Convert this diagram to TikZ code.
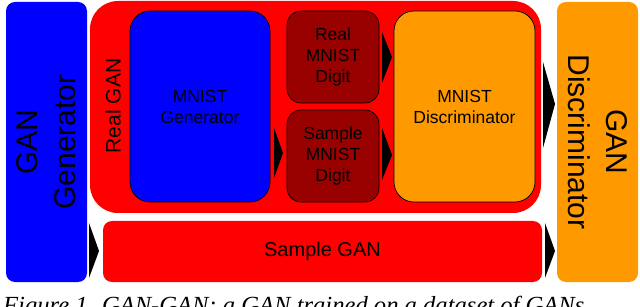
\documentclass[tikz,border=0pt]{standalone}
\usepackage{fontspec}
\setmainfont{Liberation Sans}
\newfontfamily\capfont{Liberation Serif}
\definecolor{gblue}{HTML}{0000FF}
\definecolor{gred}{HTML}{FF0000}
\definecolor{gdark}{HTML}{990000}
\definecolor{gorange}{HTML}{FF9900}
\begin{document}
\begin{tikzpicture}[x=1pt,y=-1pt,
  box/.style={rectangle, inner sep=0pt, align=center, text=black},
  outer/.style={box, draw=none},
  inner/.style={box, draw=black, line width=0.7pt},
  chev/.style={fill=black, draw=none}]
\useasboundingbox (0,0) rectangle (640,307);
\clip (0,0) rectangle (640,307);
% outer boxes
\node[outer, fill=gblue, rounded corners=9pt, minimum width=81pt, minimum height=280pt] (ggen) at (46.5,142) {};
\node[outer, fill=gred, rounded corners=28pt, minimum width=451pt, minimum height=212pt] (realgan) at (315.5,107) {};
\node[outer, fill=gred, rounded corners=9pt, minimum width=439pt, minimum height=61pt] (sgan) at (322.5,251.5) {};
\node[outer, fill=gorange, rounded corners=9pt, minimum width=81pt, minimum height=280pt] (gdis) at (597.5,142) {};
% inner boxes
\node[inner, fill=gblue, rounded corners=20pt, minimum width=140pt, minimum height=191pt] (mgen) at (200,106.5) {};
\node[inner, fill=gdark, rounded corners=14pt, minimum width=92pt, minimum height=92pt] (rdig) at (333,57) {};
\node[inner, fill=gdark, rounded corners=14pt, minimum width=92pt, minimum height=92pt] (sdig) at (333,156) {};
\node[inner, fill=gorange, rounded corners=20pt, minimum width=141pt, minimum height=191pt] (mdis) at (464.5,106.5) {};
% labels
\node[box, rotate=90, font=\fontsize{30}{38}\selectfont] (ggenl) at (ggen.center) {GAN\\Generator};
\node[box, rotate=-90, font=\fontsize{30}{38}\selectfont] (gdisl) at (gdis.center) {GAN\\Discriminator};
\node[box, rotate=90, font=\fontsize{21}{25}\selectfont] (realganl) at (113,106) {Real GAN};
\node[box, font=\fontsize{20}{24}\selectfont] (sganl) at (sgan.center) {Sample GAN};
\node[box, font=\fontsize{17.5}{21}\selectfont] (mgenl) at (mgen.center) {MNIST\\Generator};
\node[box, font=\fontsize{17.5}{21}\selectfont] (rdigl) at (rdig.center) {Real\\MNIST\\Digit};
\node[box, font=\fontsize{17.5}{21}\selectfont] (sdigl) at (sdig.center) {Sample\\MNIST\\Digit};
\node[box, font=\fontsize{17.5}{21}\selectfont] (mdisl) at (mdis.center) {MNIST\\Discriminator};
% chevron arrows
\fill[chev] (274,128) -- (283,153) -- (274,178) -- cycle;
\fill[chev] (382,32) -- (392,57) -- (382,83) -- cycle;
\fill[chev] (382,128) -- (392,155) -- (382,180) -- cycle;
\fill[chev] (543,62) -- (555,104) -- (543,148) -- cycle;
\fill[chev] (89,223) -- (99,251) -- (89,278) -- cycle;
\fill[chev] (545,223) -- (555,251) -- (545,278) -- cycle;
% caption
\node[anchor=base west, inner sep=0pt, font=\capfont\itshape\fontsize{24.6}{28}\selectfont] (cap) at (3,313) {Figure 1. GAN-GAN: a GAN trained on a dataset of GANs};
\end{tikzpicture}
\end{document}
